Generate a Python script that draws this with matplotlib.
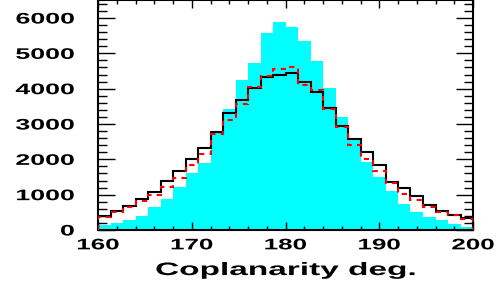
import numpy as np
import matplotlib.pyplot as plt
from matplotlib.ticker import MultipleLocator
from matplotlib.patheffects import AbstractPathEffect
from matplotlib.transforms import Affine2D

plt.rcParams['font.family'] = ['Liberation Sans', 'DejaVu Sans']
plt.rcParams['font.weight'] = 'bold'

# 30 bins, 160 to 200 deg
bin_edges = np.linspace(160, 200, 31)

filled = [130, 210, 280, 400, 660, 870, 1230, 1600, 1900, 2760,
          3430, 4250, 4740, 5570, 5900, 5750, 5360, 4790, 4010, 3200,
          2540, 1930, 1510, 1090, 730, 515, 380, 270, 165, 95]
solid = [400, 525, 685, 880, 1070, 1395, 1680, 2010, 2310, 2780,
         3300, 3680, 4020, 4340, 4385, 4435, 4195, 3910, 3450, 2950,
         2570, 2210, 1850, 1360, 1180, 950, 715, 530, 438, 335]
dashed = [360, 500, 660, 810, 1000, 1230, 1460, 1840, 2160, 2720,
          3120, 3560, 4040, 4360, 4570, 4615, 4115, 3970, 3430, 2920,
          2400, 2000, 1660, 1340, 1030, 860, 665, 510, 430, 325]


class Stretch(AbstractPathEffect):
    # widen glyphs horizontally (the reference text is drawn very wide)
    def __init__(self, sx, anchor='center'):
        super().__init__()
        self.sx = sx
        self.anchor = anchor

    def draw_path(self, renderer, gc, tpath, affine, rgbFace=None):
        ext = tpath.get_extents()
        x0 = ext.x1 if self.anchor == 'right' else (ext.x0 + ext.x1) / 2
        t = Affine2D().translate(-x0, 0).scale(self.sx, 1).translate(x0, 0)
        renderer.draw_path(gc, tpath, t + affine, rgbFace)


fig = plt.figure(figsize=(5, 2.88), dpi=100)
ax = fig.add_axes([0.196, 0.2014, 0.75, 0.7986])

ax.stairs(filled, bin_edges, fill=True, color='#00FFFF', zorder=1)
ax.stairs(solid, bin_edges, baseline=0, color='black', lw=1.5, zorder=2)
ax.stairs(dashed, bin_edges, baseline=0, color='red', lw=1.5,
          linestyle=(0, (2.5, 2.5)), zorder=3)

ax.set_xlim(160, 200)
ax.set_ylim(0, 6510)

ax.xaxis.set_major_locator(MultipleLocator(10))
ax.xaxis.set_minor_locator(MultipleLocator(2))
ax.yaxis.set_major_locator(MultipleLocator(1000))
ax.yaxis.set_minor_locator(MultipleLocator(200))

ax.tick_params(axis='x', which='major', direction='in', length=6, width=1,
               top=True, bottom=True, pad=6, labelsize=11)
ax.tick_params(axis='x', which='minor', direction='in', length=2.8, width=1,
               top=True, bottom=True)
ax.tick_params(axis='y', which='major', direction='in', length=12.5, width=1,
               left=True, right=True, pad=17, labelsize=11)
ax.tick_params(axis='y', which='minor', direction='in', length=6.5, width=1,
               left=True, right=True)

for s in ax.spines.values():
    s.set_linewidth(1.5)

for t in ax.xaxis.get_major_ticks():
    t.label1.set_path_effects([Stretch(1.7, 'center')])
for t in ax.yaxis.get_major_ticks():
    t.label1.set_path_effects([Stretch(1.75, 'right')])

xl = ax.set_xlabel('Coplanarity deg.', fontsize=13, fontweight='bold', labelpad=7)
xl.set_path_effects([Stretch(1.85, 'center')])

fig.savefig('out.png', dpi=100)
